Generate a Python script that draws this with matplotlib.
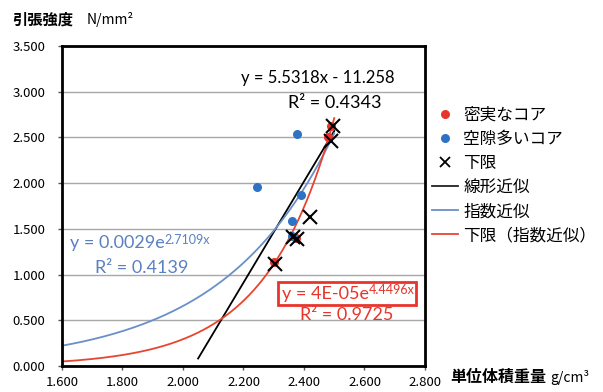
import numpy as np
import matplotlib
matplotlib.use('Agg')
import matplotlib.pyplot as plt
from matplotlib.lines import Line2D

plt.rcParams['font.family'] = ['Noto Sans CJK JP', 'DejaVu Sans']

# データ
dense_x = [2.49, 2.48, 2.375, 2.30]
dense_y = [2.63, 2.51, 1.40, 1.14]
porous_x = [2.376, 2.244, 2.389, 2.359, 2.359]
porous_y = [2.54, 1.96, 1.87, 1.59, 1.42]
lower_x = [2.497, 2.49, 2.42, 2.365, 2.378, 2.304]
lower_y = [2.62, 2.46, 1.63, 1.41, 1.39, 1.12]

# 近似式の係数
lin_a, lin_b = 5.5318, -11.258
exp_a, exp_k = 0.0029, 2.7109
low_a, low_k = 4e-05, 4.4496

x_ticks = [1.6, 1.8, 2.0, 2.2, 2.4, 2.6, 2.8]
y_ticks = [0.0, 0.5, 1.0, 1.5, 2.0, 2.5, 3.0, 3.5]

red = '#e8342a'
blue = '#2e72c4'
blue_line = '#6b8fc6'
blue_text = '#5b80c0'
red_line = '#e8452f'
eq_font = ['Lato', 'DejaVu Sans']

fig = plt.figure(figsize=(6.03, 3.92), dpi=100)
ax = fig.add_axes([0.1028, 0.0663, 0.6020, 0.8164])

ax.set_xlim(1.6, 2.8)
ax.set_ylim(0, 3.5)
ax.set_xticks(x_ticks)
ax.set_yticks(y_ticks)
ax.set_xticklabels(['%.3f' % v for v in x_ticks])
ax.set_yticklabels(['%.3f' % v for v in y_ticks])
ax.tick_params(labelsize=9.5, length=3, width=1, color='#555555')
ax.tick_params(axis='y', pad=9)
ax.tick_params(axis='x', pad=4)
ax.yaxis.grid(True, color='#a8a8a8', linewidth=1)
ax.set_axisbelow(True)
for s in ax.spines.values():
    s.set_linewidth(2)
    s.set_color('black')

# 近似曲線
xs = np.linspace(1.6, 2.5, 200)
xl = np.linspace(2.05, 2.5, 50)
ax.plot(xl, lin_a * xl + lin_b, color='black', lw=1.3, zorder=2)
ax.plot(xs, exp_a * np.exp(exp_k * xs), color=blue_line, lw=1.3, zorder=2)
ax.plot(xs, low_a * np.exp(low_k * xs), color=red_line, lw=1.3, zorder=2)

# 散布点
ax.plot(dense_x, dense_y, 'o', color=red, ms=6.5, mec='none', zorder=3)
ax.plot(porous_x, porous_y, 'o', color=blue, ms=6.5, mec='none', zorder=3)
ax.plot(lower_x, lower_y, 'x', color='black', ms=10, mew=1.5, zorder=4)


def eq_with_sup(x, y, base, sup, color):
    t = ax.text(x, y, base, fontsize=13, color=color, family=eq_font,
                ha='left', va='center')
    ax.annotate(sup, xy=(1, 0.72), xycoords=t, fontsize=9, color=color,
                family=eq_font, ha='left', va='center')
    return t


# 近似式のラベル
ax.text(2.445, 3.15, 'y = 5.5318x - 11.258', fontsize=12, color='black',
        family=eq_font, ha='center', va='center')
ax.text(2.502, 2.88, 'R² = 0.4343', fontsize=13, color='black',
        family=eq_font, ha='center', va='center')
eq_with_sup(1.626, 1.345, 'y = 0.0029e', '2.7109x', blue_text)
ax.text(1.709, 1.07, 'R² = 0.4139', fontsize=13, color=blue_text,
        family=eq_font, ha='left', va='center')
eq_with_sup(2.327, 0.79, 'y = 4E-05e', '4.4496x', red)
ax.text(2.542, 0.558, 'R² = 0.9725', fontsize=13, color=red,
        family=eq_font, ha='center', va='center')
box = plt.Rectangle((2.315, 0.665), 0.455, 0.25, fill=False, ec=red, lw=2, zorder=5)
ax.add_patch(box)

# 凡例
handles = [
    Line2D([], [], ls='none', marker='o', color=red, ms=6.5, mec='none'),
    Line2D([], [], ls='none', marker='o', color=blue, ms=6.5, mec='none'),
    Line2D([], [], ls='none', marker='x', color='black', ms=7.5, mew=1.3),
    Line2D([], [], color='#222222', lw=1.3),
    Line2D([], [], color=blue_line, lw=1.3),
    Line2D([], [], color=red_line, lw=1.3),
]
labels = ['密実なコア', '空隙多いコア', '下限', '線形近似', '指数近似', '下限（指数近似）']
ax.legend(handles, labels, loc='upper left', bbox_to_anchor=(1.0, 0.83),
          frameon=False, fontsize=12, handlelength=1.6, handletextpad=0.3,
          labelspacing=0.42, borderaxespad=0)

# 軸タイトル
fig.text(0.02, 0.949, '引張強度', fontsize=11, fontweight='bold', ha='left', va='center')
fig.text(0.144, 0.949, 'N/mm²', fontsize=10, ha='left', va='center')
fig.text(0.746, 0.038, '単位体積重量', fontsize=11.5, fontweight='bold', ha='left', va='center')
fig.text(0.912, 0.038, 'g/cm³', fontsize=10, ha='left', va='center')

fig.savefig('out.png', dpi=100)
